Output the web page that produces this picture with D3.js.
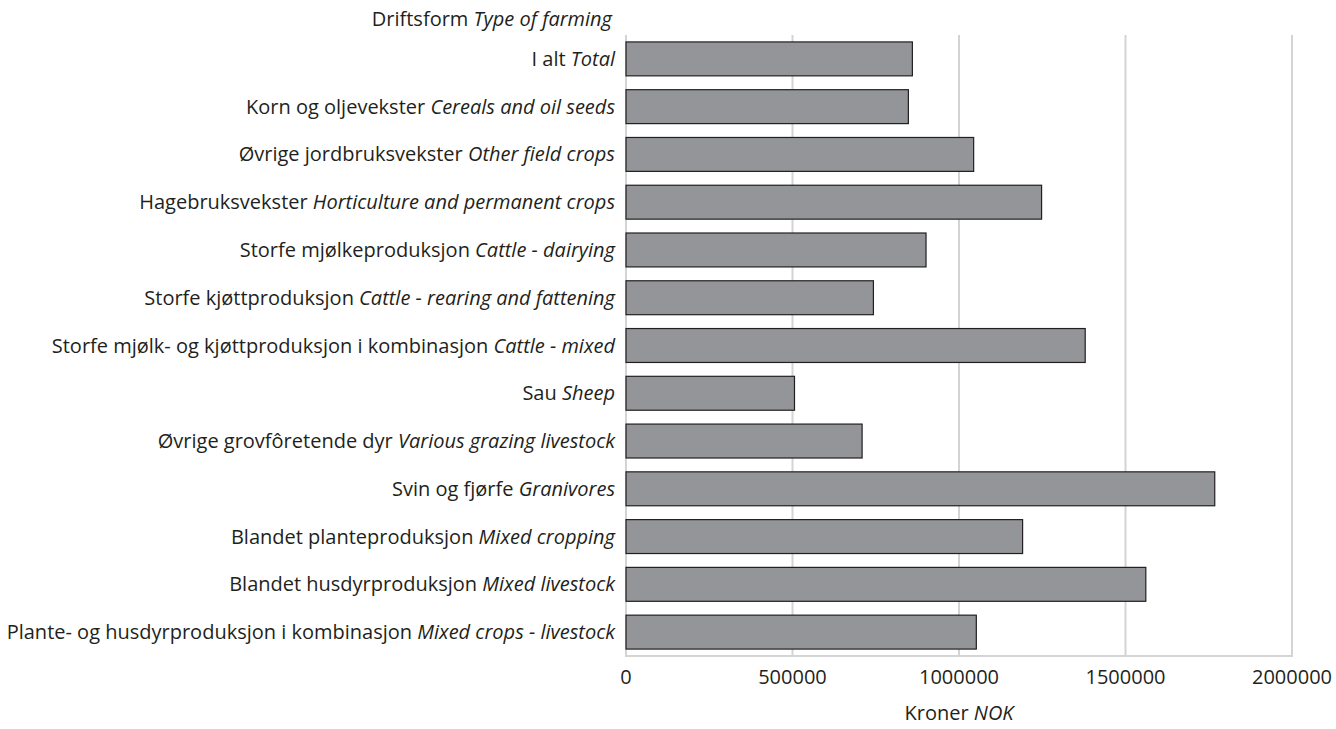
<!DOCTYPE html>
<html lang="no">
<head>
    <meta charset="UTF-8">
    <title>Driftsform</title>
    <style>
        body {
            margin: 0;
            background: #fff;
            font-family: "Open Sans", sans-serif;
        }
        .grid line {
            stroke: #d4d4d4;
            stroke-width: 2px;
        }
        .bar {
            fill: #939598;
            stroke: #231f20;
            stroke-width: 1.2px;
        }
        text {
            fill: #231f20;
            font-size: 20px;
        }
    </style>
</head>
<body>
    <svg id="chart" width="1336" height="729"></svg>
    <script src="https://d3js.org/d3.v7.min.js"></script>
    <script>
        // categories: [norsk, english]
        const labelsNo = [
            "I alt",
            "Korn og oljevekster",
            "Øvrige jordbruksvekster",
            "Hagebruksvekster",
            "Storfe mjølkeproduksjon",
            "Storfe kjøttproduksjon",
            "Storfe mjølk- og kjøttproduksjon i kombinasjon",
            "Sau",
            "Øvrige grovfôretende dyr",
            "Svin og fjørfe",
            "Blandet planteproduksjon",
            "Blandet husdyrproduksjon",
            "Plante- og husdyrproduksjon i kombinasjon"
        ];
        const labelsEn = [
            "Total",
            "Cereals and oil seeds",
            "Other field crops",
            "Horticulture and permanent crops",
            "Cattle - dairying",
            "Cattle - rearing and fattening",
            "Cattle - mixed",
            "Sheep",
            "Various grazing livestock",
            "Granivores",
            "Mixed cropping",
            "Mixed livestock",
            "Mixed crops - livestock"
        ];
        const values = [860000, 848000, 1044000, 1248000, 901000, 743000, 1379000,
                        506000, 709000, 1768000, 1191000, 1561000, 1052000];
        const ticks = [0, 500000, 1000000, 1500000, 2000000];

        const plot = { left: 626, right: 1292, top: 35, bottom: 656 };

        const svg = d3.select("#chart");

        const x = d3.scaleLinear().domain([0, 2000000]).range([plot.left, plot.right]);
        const y = d3.scaleBand()
            .domain(d3.range(values.length))
            .range([plot.top, plot.bottom])
            .paddingInner(0.29)
            .paddingOuter(0.145);

        // gridlines
        svg.append("g").attr("class", "grid")
            .selectAll("line")
            .data(ticks)
            .enter()
            .append("line")
            .attr("x1", d => x(d)).attr("x2", d => x(d))
            .attr("y1", plot.top).attr("y2", plot.bottom);

        svg.append("line")
            .attr("x1", plot.left - 1).attr("x2", plot.right + 1)
            .attr("y1", plot.bottom).attr("y2", plot.bottom)
            .attr("stroke", "#d4d4d4").attr("stroke-width", 2);

        // bars
        svg.selectAll(".bar")
            .data(values)
            .enter()
            .append("rect")
            .attr("class", "bar")
            .attr("x", x(0))
            .attr("y", (d, i) => y(i))
            .attr("width", d => x(d) - x(0))
            .attr("height", y.bandwidth());

        // category labels
        const lab = svg.selectAll(".lab")
            .data(labelsNo)
            .enter()
            .append("text")
            .attr("class", "lab")
            .attr("x", 615)
            .attr("y", (d, i) => y(i) + y.bandwidth() / 2)
            .attr("dy", "0.35em")
            .attr("text-anchor", "end");
        lab.append("tspan").text(d => d + " ");
        lab.append("tspan").style("font-style", "italic").text((d, i) => labelsEn[i]);

        // x axis tick labels
        svg.selectAll(".tick-lab")
            .data(ticks)
            .enter()
            .append("text")
            .attr("x", d => x(d))
            .attr("y", 684)
            .attr("text-anchor", "middle")
            .text(d => d3.format("d")(d));

        // titles
        const yt = svg.append("text")
            .attr("x", 612).attr("y", 26)
            .attr("text-anchor", "end");
        yt.append("tspan").text("Driftsform ");
        yt.append("tspan").style("font-style", "italic").text("Type of farming");

        const xt = svg.append("text")
            .attr("x", x(1000000)).attr("y", 720)
            .attr("text-anchor", "middle");
        xt.append("tspan").text("Kroner ");
        xt.append("tspan").style("font-style", "italic").text("NOK");
    </script>
</body>
</html>
